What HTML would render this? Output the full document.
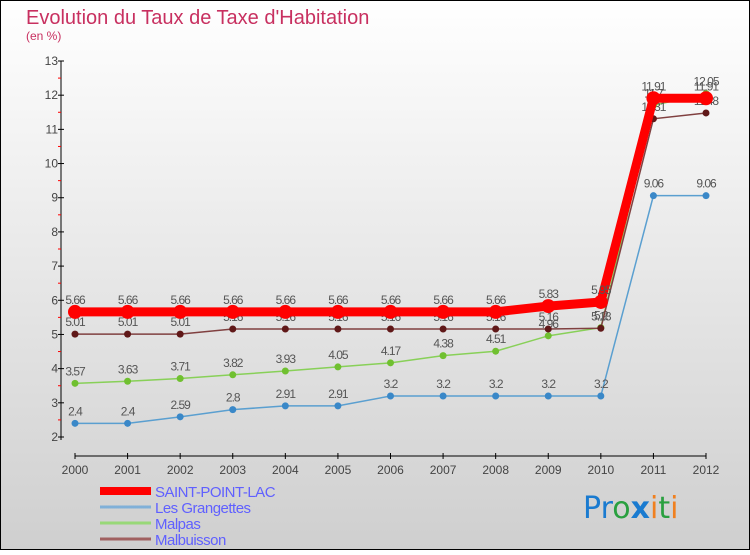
<!DOCTYPE html>
<html><head><meta charset="utf-8"><style>
body{margin:0}
#c{width:750px;height:550px;position:relative;font-family:"Liberation Sans",sans-serif}
</style></head><body>
<div id="c">
<svg id="s" width="750" height="550" xmlns="http://www.w3.org/2000/svg">
<defs><linearGradient id="bg" x1="0" y1="0" x2="0" y2="1"><stop offset="0" stop-color="#ffffff"/><stop offset="1" stop-color="#cfcfcf"/></linearGradient></defs>
<rect x="0.5" y="0.5" width="749" height="549" fill="url(#bg)" stroke="#000"/>
<text x="26" y="24" font-size="20" fill="#c83060">Evolution du Taux de Taxe d'Habitation</text>
<text x="26" y="40" font-size="12" fill="#c83060">(en %)</text>
<g id="axes"></g><g id="series"></g><g id="legend"></g>
<text x="583" y="518" font-size="30" font-family="'DejaVu Sans',sans-serif"><tspan fill="#1a7bd0">Pr</tspan><tspan fill="#2aa040">o</tspan><tspan fill="#1a7bd0" font-weight="bold">x</tspan><tspan fill="#f08020">i</tspan><tspan fill="#2aa040">t</tspan><tspan fill="#f08020">i</tspan></text>
</svg></div>
<script>
const years=[2000,2001,2002,2003,2004,2005,2006,2007,2008,2009,2010,2011,2012];
const saintPointLac=[5.66,5.66,5.66,5.66,5.66,5.66,5.66,5.66,5.66,5.83,5.95,11.91,11.91];
const lesGrangettes=[2.4,2.4,2.59,2.8,2.91,2.91,3.2,3.2,3.2,3.2,3.2,9.06,9.06];
const malpas=[3.57,3.63,3.71,3.82,3.93,4.05,4.17,4.38,4.51,4.96,5.2,11.7,12.05];
const malbuisson=[5.01,5.01,5.01,5.16,5.16,5.16,5.16,5.16,5.16,5.16,5.18,11.31,11.48];
const yTicks=[2,3,4,5,6,7,8,9,10,11,12,13];
const NS="http://www.w3.org/2000/svg";
const X=i=>75+i*(706-75)/12, Y=v=>437-(v-2)*(437-61)/11;
function mk(p,t,a){const e=document.createElementNS(NS,t);for(const k in a)e.setAttribute(k,a[k]);p.appendChild(e);return e;}
const ax=document.getElementById('axes');
let l=mk(ax,'line',{x1:61,y1:61,x2:61,y2:440,stroke:'#000'});

l=mk(ax,'line',{x1:75,y1:456,x2:706,y2:456,stroke:'#000'});

yTicks.forEach(v=>{mk(ax,'line',{x1:58,y1:Y(v),x2:64,y2:Y(v),stroke:'#000'});
 if(v<13)mk(ax,'line',{x1:58,y1:Y(v+0.5),x2:61,y2:Y(v+0.5),stroke:'#f00'});
 const t=mk(ax,'text',{x:58,y:Y(v)+4,'font-size':12,fill:'#444','text-anchor':'end'});t.textContent=v;
 });
years.forEach((y,i)=>{mk(ax,'line',{x1:X(i),y1:453,x2:X(i),y2:459,stroke:'#000'});
 const t=mk(ax,'text',{x:X(i),y:474,'font-size':12,fill:'#444','text-anchor':'middle'});t.textContent=y;
 });
const sg=document.getElementById('series');
function series(vals,color,w,r,name,dot){
 const g=mk(sg,'g',{});
 mk(g,'polyline',{points:vals.map((v,i)=>X(i)+','+Y(v)).join(' '),fill:'none',stroke:color,'stroke-width':w});
 vals.forEach((v,i)=>{const c=mk(g,'circle',{cx:X(i),cy:Y(v),r:r,fill:dot||color});
  
  const t=mk(g,'text',{x:X(i),y:Y(v)-8,'font-size':12,fill:'#555','text-anchor':'middle','letter-spacing':'-1'});t.textContent=v;});
}
series(lesGrangettes,'#5a9fd0',1.5,3.5,'les-grangettes','#3a88c8');
series(malpas,'#88d058',1.5,3.5,'malpas','#70c030');
series(malbuisson,'#804040',1.5,3.5,'malbuisson','#601818');
series(saintPointLac,'#f00',9,7,'saint-point-lac');
const lg=document.getElementById('legend');
[['SAINT-POINT-LAC','#f00',8],['Les Grangettes','#80b0d8',3],['Malpas','#98d878',3],['Malbuisson','#a06060',3]].forEach((d,i)=>{
 const y=491+i*16;const g=mk(lg,'g',{});
 mk(g,'line',{x1:100,y1:y,x2:151,y2:y,stroke:d[1],'stroke-width':d[2]});
 const t=mk(g,'text',{x:155,y:y+6,'font-size':15,fill:'#6060ff','letter-spacing':'-0.5'});t.textContent=d[0];});
</script></body></html>
